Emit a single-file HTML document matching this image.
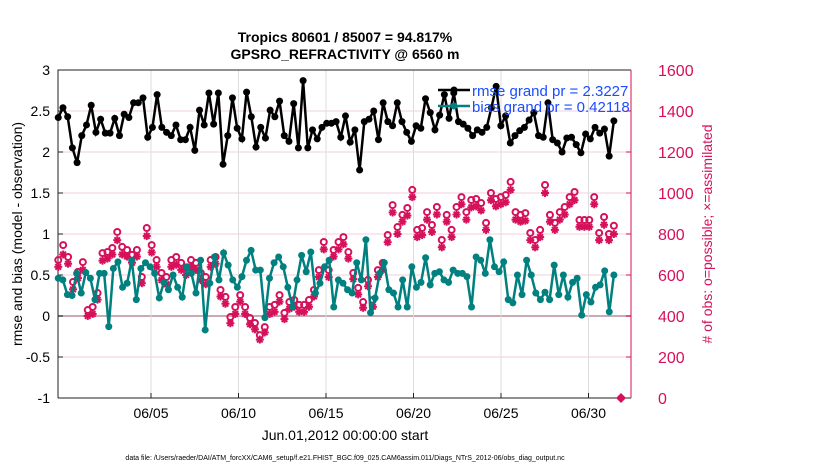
<!DOCTYPE html>
<html><head><meta charset="utf-8">
<style>
body{margin:0;background:#fff;width:830px;height:470px;overflow:hidden;font-family:"Liberation Sans",sans-serif}
svg text{font-family:"Liberation Sans",sans-serif}
</style></head>
<body>
<svg id="chart" width="830" height="470" xmlns="http://www.w3.org/2000/svg">
<g id="grid"></g>
<g id="axes"></g>
<g id="series"></g>
<text x="345" y="42" text-anchor="middle" font-size="14" font-weight="bold">Tropics 80601 / 85007 = 94.817%</text>
<text x="345" y="59" text-anchor="middle" font-size="14" font-weight="bold">GPSRO_REFRACTIVITY @ 6560 m</text>
<text transform="translate(22,234) rotate(-90)" text-anchor="middle" font-size="14">rmse and bias (model - observation)</text>
<text transform="translate(712,234) rotate(-90)" text-anchor="middle" font-size="14" fill="#d6105a"># of obs: o=possible; ×=assimilated</text>
<text x="345" y="440" text-anchor="middle" font-size="14">Jun.01,2012 00:00:00 start</text>
<text x="345" y="460" text-anchor="middle" font-size="7">data file: /Users/raeder/DAI/ATM_forcXX/CAM6_setup/f.e21.FHIST_BGC.f09_025.CAM6assim.011/Diags_NTrS_2012-06/obs_diag_output.nc</text>
<g>
<line x1="438" y1="90" x2="470" y2="90" stroke="#000" stroke-width="2.5"/>
<circle cx="454" cy="90" r="3.5" fill="#000"/>
<line x1="438" y1="106" x2="470" y2="106" stroke="#00807f" stroke-width="2.5"/>
<circle cx="454" cy="106" r="3.5" fill="#00807f"/>
<text x="472" y="96" font-size="15" fill="#1a4dff">rmse grand pr = 2.3227</text>
<text x="472" y="112" font-size="15" fill="#1a4dff">bias grand pr = 0.42118</text>
</g>
</svg>
<script>
const leftTicks=[-1,-0.5,0,0.5,1,1.5,2,2.5,3];
const leftTickLabels=["-1","-0.5","0","0.5","1","1.5","2","2.5","3"];
const rightTicks=[0,200,400,600,800,1000,1200,1400,1600];
const dateTicks=[5,10,15,20,25,30];
const dateTickLabels=["06/05","06/10","06/15","06/20","06/25","06/30"];
const rmse=[2.42,2.54,2.43,2.05,1.87,2.2,2.33,2.57,2.24,2.4,2.23,2.23,2.41,2.2,2.46,2.42,2.6,2.6,2.66,2.18,2.3,2.7,2.3,2.24,2.2,2.33,2.15,2.15,2.3,2.02,
2.51,2.33,2.72,2.34,2.72,1.85,2.2,2.66,2.29,2.16,2.73,2.43,2.06,2.3,2.17,2.51,2.43,2.62,2.2,2.13,2.59,2.05,2.87,2.05,2.27,2.16,2.3,2.35,2.35,
2.37,2.18,2.44,2.12,2.27,1.78,2.37,2.4,2.5,2.15,2.6,2.37,2.32,2.6,2.37,2.24,2.13,2.32,2.29,2.65,2.48,2.27,2.45,2.7,2.41,2.72,2.37,2.34,2.29,2.2,
2.27,2.24,2.3,2.54,2.8,2.32,2.44,2.11,2.2,2.26,2.3,2.39,2.48,2.2,2.18,2.6,2.15,2.11,2.0,2.17,2.18,2.09,1.99,2.22,2.16,2.3,2.23,2.28,1.95,2.38];
const bias=[0.46,0.44,0.26,0.25,0.52,0.28,0.53,0.46,0.2,0.52,0.52,-0.13,0.58,0.66,0.35,0.4,0.68,0.2,0.58,0.65,0.6,0.52,0.22,0.41,0.32,0.5,0.35,0.23,0.6,0.52,
0.28,0.68,-0.17,0.4,0.72,0.44,0.77,0.62,0.44,0.35,0.48,0.68,0.8,0.56,0.56,-0.02,0.46,0.65,0.72,0.6,0.35,0.11,0.44,0.74,0.54,0.78,0.28,0.4,0.6,
0.68,0.11,0.44,0.4,0.32,0.28,0.65,0.44,0.93,0.04,0.22,0.52,0.65,0.32,0.28,0.11,0.44,0.11,0.6,0.35,0.41,0.71,0.38,0.52,0.54,0.44,0.41,0.56,0.52,
0.52,0.48,0.11,0.72,0.68,0.52,0.93,0.6,0.54,0.66,0.2,0.16,0.5,0.26,0.68,0.5,0.28,0.2,0.29,0.2,0.62,0.26,0.5,0.23,0.41,0.46,0.01,0.26,0.17,0.35,0.38,0.55,0.05,0.5];
const possible=[673,746,688,566,615,663,429,444,512,707,712,732,810,737,722,698,722,590,829,746,673,610,590,673,688,659,634,673,
659,610,590,673,688,527,493,395,444,502,444,390,366,307,346,444,454,502,415,468,478,454,454,478,527,624,761,
624,722,761,785,712,610,537,468,576,478,624,659,795,941,834,893,927,1015,820,829,907,844,932,771,893,820,932,980,907,966,
971,951,854,1000,971,980,990,1054,907,893,902,805,771,820,1039,893,854,907,932,980,1005,868,868,868,980,805,883,800,840];
const assimilated=[640,700,655,530,585,625,400,410,480,670,680,700,770,700,690,660,690,560,790,710,640,575,555,640,650,625,600,640,
625,575,555,640,655,495,460,365,410,470,410,360,335,285,320,410,420,470,385,435,445,420,420,445,495,590,725,
590,690,725,750,680,580,505,440,545,445,590,625,760,905,800,860,890,980,785,795,870,810,895,735,860,785,895,945,870,930,
935,915,820,965,935,945,955,1015,870,860,865,770,735,785,1000,860,820,870,895,945,965,835,835,835,945,770,845,770,800];

const NS="http://www.w3.org/2000/svg";
const L=58,R=631,T=70,B=398;
const yL=v=>B-(v+1)/4*(B-T);
const yR=v=>B-v/1600*(B-T);
const dx=d=>151+(d-5)*17.5;
const dayAt=(i,n)=>-0.3+i*(31.45+0.3)/(n-1);
function mk(tag,attrs,parent){const e=document.createElementNS(NS,tag);for(const k in attrs)e.setAttribute(k,attrs[k]);parent.appendChild(e);return e;}
const grid=document.getElementById('grid'),axes=document.getElementById('axes'),ser=document.getElementById('series');
mk('rect',{x:L,y:T,width:R-L,height:B-T,fill:'#fff'},grid);
leftTicks.forEach((t,i)=>{
  const y=yL(t);
  const g=mk('line',{x1:L,x2:R,y1:y,y2:y,stroke:t===0?'#c9a9b4':'#f2cfdc','stroke-width':t===0?2:1},grid);
  
  
  const tl=mk('text',{x:L-8,y:y+5,'text-anchor':'end','font-size':14},axes);
  tl.textContent=leftTickLabels[i];
  
  
  mk('line',{x1:L,x2:L+5,y1:y,y2:y,stroke:'#222'},axes);
});
rightTicks.forEach(t=>{
  const y=yR(t);
  const tl=mk('text',{x:R+27,y:y+6,'font-size':16,fill:'#d6105a'},axes);
  tl.textContent=t;
  
  
  mk('line',{x1:R-5,x2:R,y1:y,y2:y,stroke:'#d6105a'},axes);
});
dateTicks.forEach((d,i)=>{
  const x=dx(d);
  const g=mk('line',{x1:x,x2:x,y1:T,y2:B,stroke:'#dcdcdc'},grid);
  
  
  mk('line',{x1:x,x2:x,y1:B,y2:B-5,stroke:'#222'},axes);
  const tl=mk('text',{x:x,y:B+20,'text-anchor':'middle','font-size':14},axes);
  tl.textContent=dateTickLabels[i];
  
  
});
mk('path',{d:`M${L},${B}V${T}H${R}`,fill:'none',stroke:'#222','stroke-width':1},axes);
mk('line',{x1:L,x2:R,y1:B,y2:B,stroke:'#222'},axes);
mk('line',{x1:R,x2:R,y1:T,y2:B,stroke:'#d6105a'},axes);
mk('path',{d:`M${R-10},${B-5}l5,5l-5,5l-5,-5z`,fill:'#d6105a'},axes);

function star(cx,cy,parent){
  const g=mk('g',{stroke:'#d6105a','stroke-width':2},parent);
  
  
  const r=4;
  for(let k=0;k<4;k++){const a=k*Math.PI/4;mk('line',{x1:cx-r*Math.cos(a),y1:cy-r*Math.sin(a),x2:cx+r*Math.cos(a),y2:cy+r*Math.sin(a)},g);}
}
possible.forEach((v,i)=>{
  const c=mk('circle',{cx:dx(dayAt(i,possible.length)),cy:yR(v),r:3,fill:'none',stroke:'#d6105a','stroke-width':2},ser);
  
  
});
assimilated.forEach((v,i)=>star(dx(dayAt(i,assimilated.length)),yR(v),ser));
function line(arr,color,name){
  const pts=arr.map((v,i)=>[dx(dayAt(i,arr.length)),yL(v)]);
  const p=mk('polyline',{points:pts.map(p=>p.join(',')).join(' '),fill:'none',stroke:color,'stroke-width':2.5},ser);
  
  
  pts.forEach(q=>{
    const c=mk('circle',{cx:q[0],cy:q[1],r:3.5,fill:color},ser);
    
    
  });
}
line(bias,'#00807f','bias');
line(rmse,'#000','rmse');
</script>
</body></html>
